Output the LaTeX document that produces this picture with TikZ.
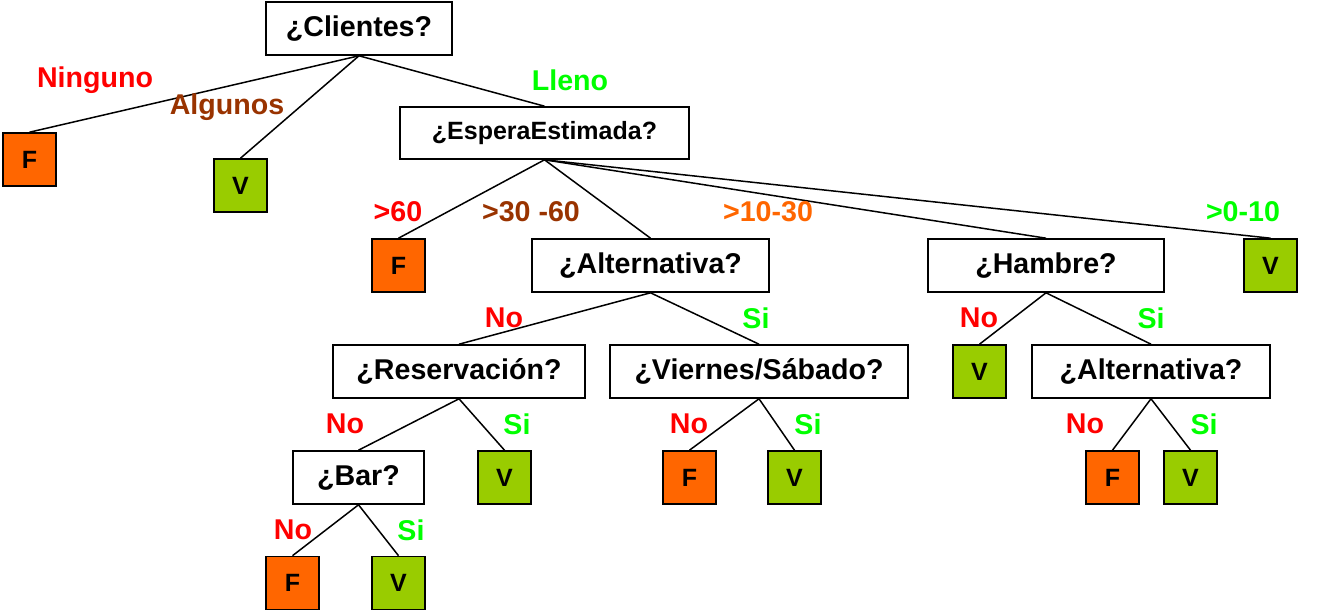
\documentclass[tikz,border=0pt]{standalone}
\usepackage{fontspec}
\setmainfont{Liberation Sans}
\definecolor{fcol}{HTML}{FF6600}
\definecolor{vcol}{HTML}{99CC00}
\definecolor{cred}{HTML}{FF0000}
\definecolor{cbrown}{HTML}{993300}
\definecolor{cgreen}{HTML}{00FF00}
\definecolor{corange}{HTML}{FF6600}
\begin{document}
\begin{tikzpicture}[x=1pt,y=-1pt,
  q/.style={draw, line width=1.6pt, fill=white, minimum height=53pt, inner sep=0pt, font=\fontsize{28.6}{34}\selectfont\bfseries},
  leaf/.style={draw, line width=1.6pt, minimum width=53pt, minimum height=53pt, inner sep=0pt, font=\fontsize{25}{28}\selectfont\bfseries},
  lf/.style={leaf, fill=fcol},
  lv/.style={leaf, fill=vcol},
  conn/.style={line width=1.5pt},
  lbl/.style={inner sep=0pt, font=\fontsize{28.6}{34}\selectfont\bfseries},
  ]
\useasboundingbox (0,0) rectangle (1320,610);
% question nodes
\node[q, minimum width=186pt] (cli) at (359,28.5) {¿Clientes?};
\node[q, minimum width=289pt, minimum height=52pt, font=\fontsize{25}{30}\selectfont\bfseries] (esp) at (544.5,133) {¿EsperaEstimada?};
\node[q, minimum width=237pt] (alt1) at (650.5,265.5) {¿Alternativa?};
\node[q, minimum width=236pt] (ham) at (1046,265.5) {¿Hambre?};
\node[q, minimum width=252pt] (res) at (459,371.5) {¿Reservación?};
\node[q, minimum width=298pt] (vie) at (759,371.5) {¿Viernes/Sábado?};
\node[q, minimum width=238pt] (alt2) at (1151,371.5) {¿Alternativa?};
\node[q, minimum width=131pt] (bar) at (358.5,477.5) {¿Bar?};
% leaves
\node[lf] (f1) at (29.5,159.5) {F};
\node[lv] (v1) at (240.5,185.5) {V};
\node[lf] (f2) at (398.5,265.5) {F};
\node[lv] (v2) at (1270.5,265.5) {V};
\node[lv] (v3) at (979.5,371.5) {V};
\node[lv] (v4) at (504.5,477.5) {V};
\node[lf] (f3) at (689.5,477.5) {F};
\node[lv] (v5) at (794.5,477.5) {V};
\node[lf] (f4) at (1112.5,477.5) {F};
\node[lv] (v6) at (1190.5,477.5) {V};
\node[lf] (f5) at (292.5,583) {F};
\node[lv] (v7) at (398.5,583) {V};
% connectors
\draw[conn] (cli.south) -- (f1.north);
\draw[conn] (cli.south) -- (v1.north);
\draw[conn] (cli.south) -- (esp.north);
\draw[conn] (esp.south) -- (f2.north);
\draw[conn] (esp.south) -- (alt1.north);
\draw[conn] (esp.south) -- (ham.north);
\draw[conn] (esp.south) -- (v2.north);
\draw[conn] (alt1.south) -- (res.north);
\draw[conn] (alt1.south) -- (vie.north);
\draw[conn] (ham.south) -- (v3.north);
\draw[conn] (ham.south) -- (alt2.north);
\draw[conn] (res.south) -- (bar.north);
\draw[conn] (res.south) -- (v4.north);
\draw[conn] (vie.south) -- (f3.north);
\draw[conn] (vie.south) -- (v5.north);
\draw[conn] (alt2.south) -- (f4.north);
\draw[conn] (alt2.south) -- (v6.north);
\draw[conn] (bar.south) -- (f5.north);
\draw[conn] (bar.south) -- (v7.north);
% labels
\node[lbl, text=cred] (l1) at (95,80) {Ninguno};
\node[lbl, text=cbrown] (l2) at (227,107) {Algunos};
\node[lbl, text=cgreen] (l3) at (570,80) {Lleno};
\node[lbl, text=cred] (l4) at (398,212) {>60};
\node[lbl, text=cbrown] (l5) at (531,212) {>30 -60};
\node[lbl, text=corange] (l6) at (768,212) {>10-30};
\node[lbl, text=cgreen] (l7) at (1243,212) {>0-10};
\node[lbl, text=cred] (l8) at (504,318) {No};
\node[lbl, text=cgreen] (l9) at (756,318) {Si};
\node[lbl, text=cred] (l10) at (979,318) {No};
\node[lbl, text=cgreen] (l11) at (1151,318) {Si};
\node[lbl, text=cred] (l12) at (345,424) {No};
\node[lbl, text=cgreen] (l13) at (517,424) {Si};
\node[lbl, text=cred] (l14) at (689,424) {No};
\node[lbl, text=cgreen] (l15) at (808,424) {Si};
\node[lbl, text=cred] (l16) at (1085,424) {No};
\node[lbl, text=cgreen] (l17) at (1204,424) {Si};
\node[lbl, text=cred] (l18) at (293,530) {No};
\node[lbl, text=cgreen] (l19) at (411,530) {Si};
\end{tikzpicture}
\end{document}
